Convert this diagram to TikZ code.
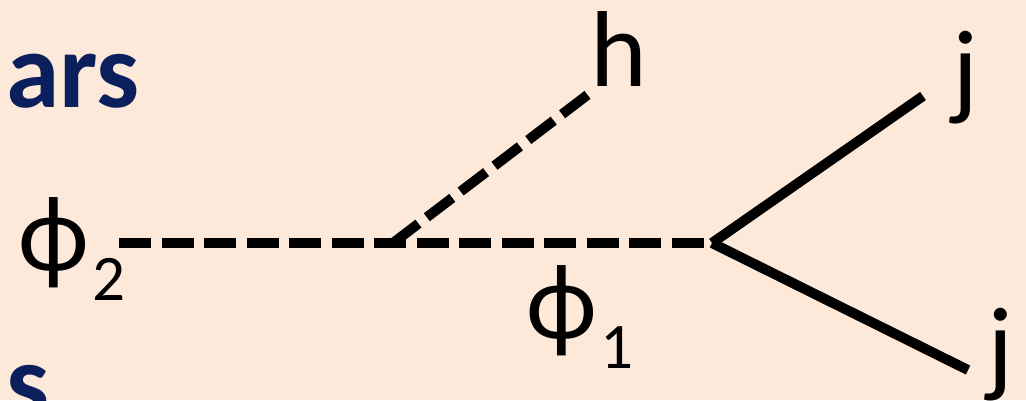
\documentclass[tikz,border=0pt]{standalone}
\usepackage{fontspec}
\setmainfont{Carlito}
\definecolor{bgpeach}{HTML}{FDE9DA}
\definecolor{titleblue}{HTML}{0A1F5C}
\tikzset{
  lbl/.style={inner sep=0pt, anchor=base west, font=\fontsize{108}{110}\selectfont},
  ttl/.style={inner sep=0pt, anchor=base west, text=titleblue, font=\fontsize{108}{108}\selectfont\bfseries},
  scalarline/.style={line width=10pt, dash pattern=on 32pt off 10.5pt, line cap=butt},
  jetline/.style={line width=10pt, line cap=butt}
}
\newcommand{\mysub}[1]{\hspace{4pt}\raisebox{-30pt}{\fontsize{65}{65}\selectfont #1}}
\begin{document}
\begin{tikzpicture}[x=1pt,y=-1pt]
\fill[bgpeach] (0,0) rectangle (1026,400);
\useasboundingbox (0,0) rectangle (1026,400);
\node[ttl] (ars) at (6,107) {ars};
\node[ttl] (s) at (6,418) {s};
\coordinate (a) at (119,243);
\coordinate (v1) at (393,243);
\coordinate (v2) at (712,243);
\coordinate (hend) at (590,93);
\coordinate (j1) at (923,96);
\coordinate (j2) at (968,370);
\draw[scalarline] (a) -- (v2);
\draw[scalarline] (v1) -- (hend);
\draw[jetline] (v2) -- (j1);
\draw[jetline] (v2) -- (j2);
\node[lbl] (phi2) at (18,270) {ϕ\mysub{2}};
\node[lbl] (phi1) at (526,338) {ϕ\mysub{1}};
\node[lbl] (h) at (590,86) {h};
\node[lbl] (jt) at (952,105) {j};
\node[lbl] (jb) at (987,382) {j};
\end{tikzpicture}
\end{document}
